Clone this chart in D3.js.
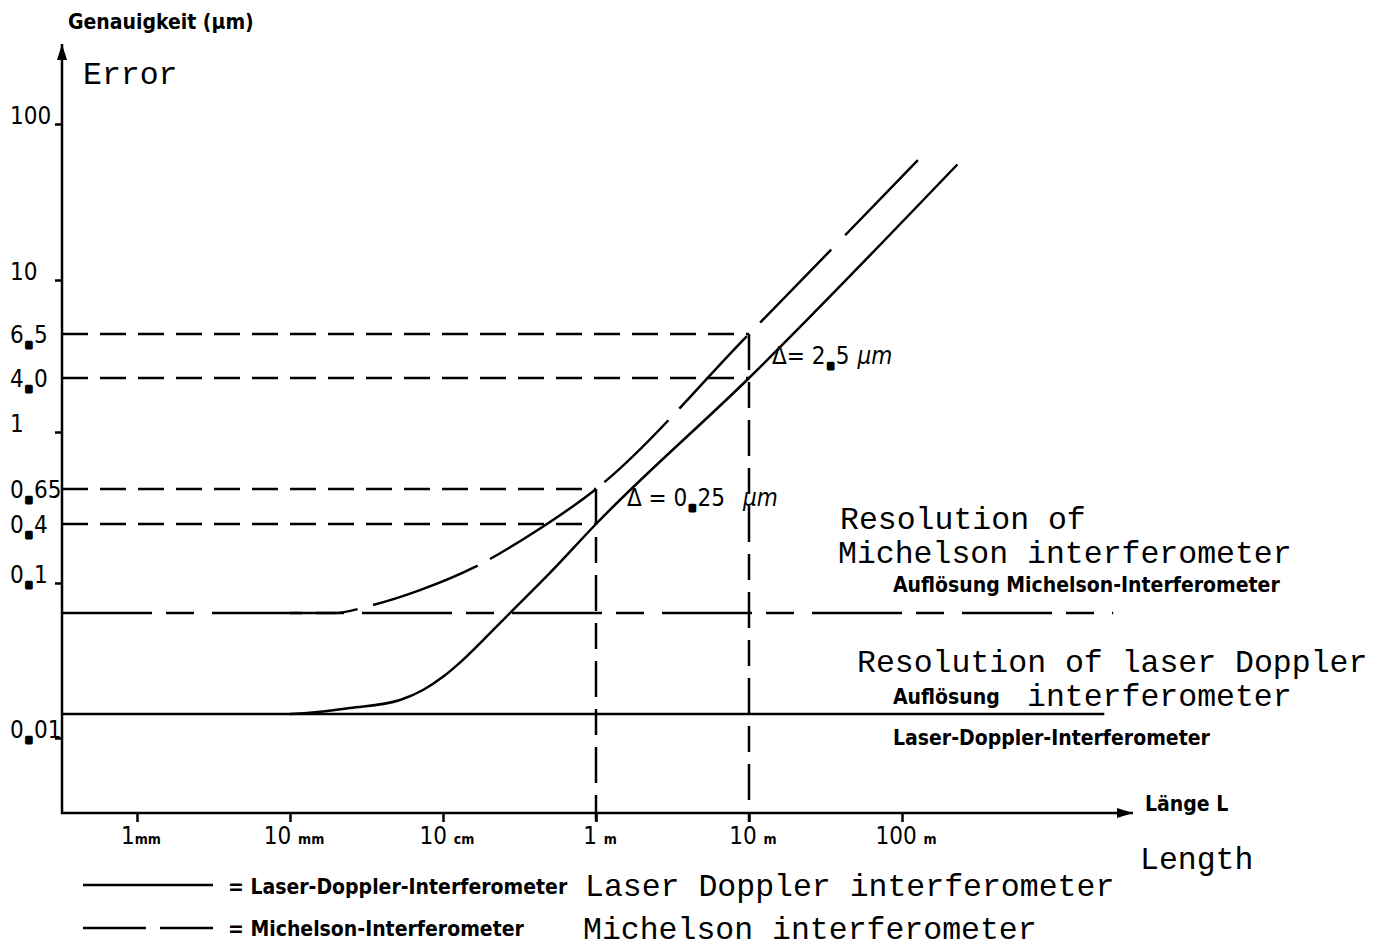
<!DOCTYPE html>
<html>
<head>
<meta charset="utf-8">
<title>Genauigkeit über Länge</title>
<script src="https://cdn.jsdelivr.net/npm/d3@7"></script>
<style>
  body { margin: 0; background: #fff; }
  text { fill: #000; }
  .de { font-family: "DejaVu Sans Condensed", "DejaVu Sans", sans-serif; font-weight: bold; font-size: 21px; }
  .en { font-family: "Liberation Mono", monospace; font-size: 31.5px; }
  .num { font-family: "DejaVu Sans Condensed", "DejaVu Sans", sans-serif; font-size: 24px; }
  .unit { font-size: 14px; font-weight: bold; }
</style>
</head>
<body>
<svg id="chart" width="1387" height="947"></svg>
<script>
// length L in mm, accuracy in µm
var xTicks = [1, 10, 100, 1000, 10000, 100000];
var xTickNums = ["1", "10 ", "10 ", "1 ", "10 ", "100 "];
var xTickUnits = ["mm", "mm", "cm", "m", "m", "m"];

var yTicks = [100, 10, 1, 0.1, 0.01];
var yTickLabels = ["100", "10", "1", "0.1", "0.01"];

// reference lengths 1 m and 10 m with the errors read at them
var refLengths = [1000, 10000];
var laserAtRef = [0.4, 4.0];
var michelsonAtRef = [0.65, 6.5];
var refLaserLabels = ["0.4", "4.0"];
var refMichelsonLabels = ["0.65", "6.5"];
var deltaLabels = ["0.25", "2.5"];

// curves
var laserLength = [10, 12.9, 24.7, 52.4, 74, 100, 135, 183, 274, 500, 1000, 10000, 230000];
var laserError  = [0.0143, 0.0145, 0.0156, 0.0176, 0.0204, 0.0248, 0.0319, 0.0428, 0.064, 0.1265, 0.4, 4.0, 55];
var michelsonLength = [10, 19.1, 34.9, 70.7, 162, 370, 1000, 10000, 127000];
var michelsonError  = [0.064, 0.064, 0.0722, 0.09, 0.146, 0.309, 0.65, 6.5, 58.7];

// resolution limits: Michelson, Laser-Doppler
var resolution = [0.064, 0.0143];
var resolutionEnd = [2400000, 2100000];

var svg = d3.select("#chart");

var x = d3.scaleLog().domain([1, 100000]).range([137, 902]);
// the hand-drawn axis is not evenly spaced, so the log scale is piecewise
var y = d3.scaleLog()
  .domain([0.01, 0.1, 0.4, 0.65, 1, 4, 6.5, 10, 100])
  .range([738, 583, 524, 489, 432, 378, 334, 280, 124]);

var x0 = 62, y0 = 813;

svg.append("defs").append("marker")
  .attr("id", "arrow")
  .attr("viewBox", "0 -6 16 12")
  .attr("refX", 16).attr("refY", 0)
  .attr("markerWidth", 16).attr("markerHeight", 12)
  .attr("markerUnits", "userSpaceOnUse")
  .attr("orient", "auto")
  .append("path").attr("d", "M0,-5L16,0L0,5Z").attr("fill", "#000");

// axes lines with arrows
svg.append("line").attr("x1", x0).attr("y1", y0 + 1).attr("x2", x0).attr("y2", 44)
  .attr("stroke", "#000").attr("stroke-width", 2.5).attr("marker-end", "url(#arrow)");
svg.append("line").attr("x1", x0 - 1).attr("y1", y0).attr("x2", 1133).attr("y2", y0)
  .attr("stroke", "#000").attr("stroke-width", 2.5).attr("marker-end", "url(#arrow)");

var yAxis = svg.append("g").attr("transform", "translate(" + x0 + ",0)")
  .call(d3.axisLeft(y).tickValues(yTicks).tickSize(7).tickFormat(""));
yAxis.select(".domain").remove();
yAxis.selectAll("line").attr("stroke-width", 2.5);

var xAxis = svg.append("g").attr("transform", "translate(0," + y0 + ")")
  .call(d3.axisBottom(x).tickValues(xTicks).tickSize(9).tickFormat(""));
xAxis.select(".domain").remove();
xAxis.selectAll("line").attr("stroke-width", 2.5);

// decimal point drawn as a large round dot, like the lettering stencil
function decimal(sel, str) {
  var p = str.split(".");
  sel.append("tspan").text(p[0]);
  if (p.length > 1) {
    sel.append("tspan").attr("font-size", "30px").attr("font-weight", "bold").attr("dy", 5)
      .attr("stroke", "#000").attr("stroke-width", 3).attr("stroke-linejoin", "round").text(".");
    sel.append("tspan").attr("dy", -5).text(p[1]);
  }
}

// y tick labels
yTicks.forEach(function (v, i) {
  svg.append("text").attr("class", "num").attr("x", 10).attr("y", y(v))
    .call(decimal, yTickLabels[i]);
});

// x tick labels
xTicks.forEach(function (v, i) {
  var t = svg.append("text").attr("class", "num").attr("x", x(v) + 4).attr("y", 844)
    .attr("text-anchor", "middle");
  t.append("tspan").text(xTickNums[i]);
  t.append("tspan").attr("class", "unit").text(xTickUnits[i]);
});

var dash = "26,12";

// reference lines at 1 m and 10 m
refLengths.forEach(function (L, i) {
  [michelsonAtRef[i], laserAtRef[i]].forEach(function (v) {
    svg.append("line").attr("x1", x0).attr("x2", x(L)).attr("y1", y(v)).attr("y2", y(v))
      .attr("stroke", "#000").attr("stroke-width", 2.5).attr("stroke-dasharray", dash);
  });
  svg.append("line").attr("x1", x(L)).attr("x2", x(L)).attr("y1", y(michelsonAtRef[i])).attr("y2", y0 + 9)
    .attr("stroke", "#000").attr("stroke-width", 2.5).attr("stroke-dasharray", "36,12,26,12");
  svg.append("text").attr("class", "num").attr("x", 10).attr("y", y(michelsonAtRef[i]) + 9)
    .call(decimal, refMichelsonLabels[i]);
  svg.append("text").attr("class", "num").attr("x", 10).attr("y", y(laserAtRef[i]) + 9)
    .call(decimal, refLaserLabels[i]);
});

// resolution lines
svg.append("line").attr("x1", x0).attr("x2", x(resolutionEnd[0]))
  .attr("y1", y(resolution[0])).attr("y2", y(resolution[0]))
  .attr("stroke", "#000").attr("stroke-width", 2.5).attr("stroke-dasharray", "90,14,28,18");
svg.append("line").attr("x1", x0).attr("x2", x(resolutionEnd[1]))
  .attr("y1", y(resolution[1])).attr("y2", y(resolution[1]))
  .attr("stroke", "#000").attr("stroke-width", 2.5);

var line = d3.line().x(function (d) { return x(d[0]); }).y(function (d) { return y(d[1]); })
  .curve(d3.curveMonotoneX);

svg.append("path").datum(d3.zip(laserLength, laserError)).attr("d", line)
  .attr("fill", "none").attr("stroke", "#000").attr("stroke-width", 2.5);
svg.append("path").datum(d3.zip(michelsonLength, michelsonError)).attr("d", line)
  .attr("fill", "none").attr("stroke", "#000").attr("stroke-width", 2.5)
  .attr("stroke-dasharray", "68,16,112,14,126,12,89,16,99,19,102,20,300");

// delta annotations
refLengths.forEach(function (L, i) {
  var t = svg.append("text").attr("class", "num")
    .attr("x", x(L) + (i === 0 ? 31 : 23)).attr("y", y(laserAtRef[i]) - (i === 0 ? 18 : 14));
  t.append("tspan").text(i === 0 ? "Δ = " : "Δ= ");
  decimal(t, deltaLabels[i]);
  t.append("tspan").attr("dx", i === 0 ? 18 : 8).attr("font-style", "italic").text("µm");
});

// titles and labels
svg.append("text").attr("class", "de").attr("x", 68).attr("y", 29).text("Genauigkeit (µm)");
svg.append("text").attr("class", "en").attr("x", 83).attr("y", 84).text("Error");
svg.append("text").attr("class", "de").attr("x", 1145).attr("y", 811).text("Länge L");
svg.append("text").attr("class", "en").attr("x", 1140).attr("y", 869).text("Length");

svg.append("text").attr("class", "en").attr("x", 840).attr("y", 529).text("Resolution of");
svg.append("text").attr("class", "en").attr("x", 838).attr("y", 563).text("Michelson interferometer");
svg.append("text").attr("class", "de").attr("x", 893).attr("y", y(resolution[0]) - 21)
  .text("Auflösung Michelson-Interferometer");

svg.append("text").attr("class", "en").attr("x", 857).attr("y", 672).text("Resolution of laser Doppler");
svg.append("text").attr("class", "de").attr("x", 893).attr("y", y(resolution[1]) - 10).text("Auflösung");
svg.append("text").attr("class", "en").attr("x", 1027).attr("y", 706).text("interferometer");
svg.append("text").attr("class", "de").attr("x", 893).attr("y", y(resolution[1]) + 31)
  .text("Laser-Doppler-Interferometer");

// legend
svg.append("line").attr("x1", 83).attr("x2", 213).attr("y1", 885).attr("y2", 885)
  .attr("stroke", "#000").attr("stroke-width", 2.5);
svg.append("line").attr("x1", 83).attr("x2", 213).attr("y1", 928).attr("y2", 928)
  .attr("stroke", "#000").attr("stroke-width", 2.5).attr("stroke-dasharray", "63,14");
svg.append("text").attr("class", "de").attr("x", 228).attr("y", 894).text("= Laser-Doppler-Interferometer");
svg.append("text").attr("class", "de").attr("x", 228).attr("y", 936).text("= Michelson-Interferometer");
svg.append("text").attr("class", "en").attr("x", 585).attr("y", 896).text("Laser Doppler interferometer");
svg.append("text").attr("class", "en").attr("x", 583).attr("y", 939).text("Michelson interferometer");
</script>
</body>
</html>
